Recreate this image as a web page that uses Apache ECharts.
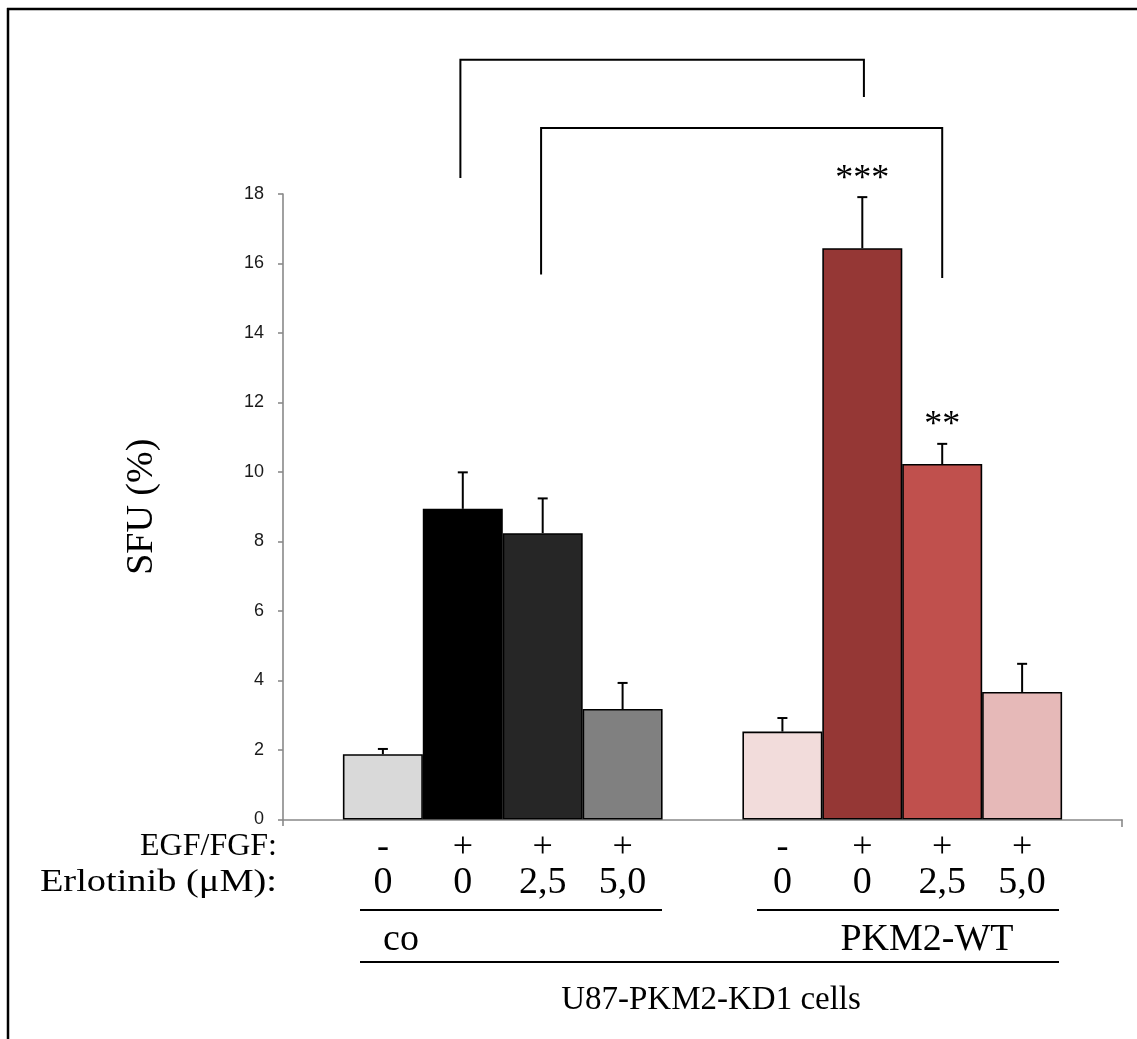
<!DOCTYPE html>
<html>
<head>
<meta charset="utf-8">
<script src="https://cdn.jsdelivr.net/npm/echarts@6/dist/echarts.min.js"></script>
<style>
html,body{margin:0;padding:0;background:#fff;}
#c{width:1137px;height:1039px;}
</style>
</head>
<body>
<div id="c"></div>
<script>
// ---- data ----
var positions = [0, 1, 2, 3, 5, 6, 7, 8];
var means = [1.88, 8.94, 8.24, 3.18, 2.53, 16.44, 10.23, 3.67];
var errors = [0.15, 1.05, 1.00, 0.75, 0.39, 1.47, 0.58, 0.81];
var barColors = ['#d9d9d9', '#000000', '#262626', '#808080', '#f2dcdb', '#953735', '#c0504d', '#e6b9b8'];
var egfLabels = ['-', '+', '+', '+', '-', '+', '+', '+'];
var erloLabels = ['0', '0', '2,5', '5,0', '0', '0', '2,5', '5,0'];
var sigLabels = ['', '', '', '', '', '***', '**', ''];
var yTicks = [0, 2, 4, 6, 8, 10, 12, 14, 16, 18];
// brackets: [leftX, rightX, topY, leftLegEndY, rightLegEndY]
var brackets = [
  [0.97, 6.02, 21.86, 18.46, 20.79],
  [1.98, 7.0, 19.9, 15.68, 15.58]
];

var SERIF = '"Liberation Serif", "Times New Roman", serif';
var chart = echarts.init(document.getElementById('c'));

var option = {
  animation: false,
  backgroundColor: '#ffffff',
  grid: {left: 283, right: 15, top: 194, bottom: 219.5, containLabel: false},
  xAxis: {
    type: 'value', min: -1.25, max: 9.25,
    axisLine: {show: true, onZero: false, lineStyle: {color: '#898989', width: 1.6}},
    axisTick: {show: false}, axisLabel: {show: false}, splitLine: {show: false}
  },
  yAxis: {
    type: 'value', min: yTicks[0], max: yTicks[yTicks.length - 1], interval: 2,
    name: 'SFU (%)', nameLocation: 'middle', nameGap: 122,
    nameTextStyle: {fontFamily: SERIF, fontSize: 38, color: '#000'},
    axisLine: {show: true, onZero: false, lineStyle: {color: '#898989', width: 1.6}},
    axisTick: {show: true, length: 5, lineStyle: {color: '#898989', width: 1.6}},
    axisLabel: {fontFamily: '"Liberation Sans", Arial, sans-serif', fontSize: 18, color: '#1a1a1a', margin: 19},
    splitLine: {show: false}
  },
  series: [
    {
      type: 'bar', barWidth: 80,
      data: positions.map(function (p, i) {
        return {value: [p, means[i]], itemStyle: {color: barColors[i], borderColor: '#000', borderWidth: 1.6}};
      })
    },
    {
      type: 'custom', z: 5,
      data: positions.map(function (p, i) { return [p, means[i], means[i] + errors[i]]; }),
      renderItem: function (params, api) {
        var i = params.dataIndex;
        var b = api.coord([api.value(0), api.value(1)]);
        var t = api.coord([api.value(0), api.value(2)]);
        var children = [
          {type: 'line', shape: {x1: b[0], y1: b[1], x2: t[0], y2: t[1]}, style: {stroke: '#000', lineWidth: 2}},
          {type: 'line', shape: {x1: t[0] - 5, y1: t[1], x2: t[0] + 5, y2: t[1]}, style: {stroke: '#000', lineWidth: 2}}
        ];
        if (sigLabels[i]) {
          children.push({type: 'text', x: t[0], y: t[1] - 18,
            style: {text: sigLabels[i], font: '36px ' + SERIF, fill: '#000', align: 'center', verticalAlign: 'middle'}});
        }
        return {type: 'group', children: children};
      }
    },
    {
      type: 'custom', z: 5,
      data: brackets,
      renderItem: function (params, api) {
        var l = api.coord([api.value(0), api.value(2)]);
        var r = api.coord([api.value(1), api.value(2)]);
        var le = api.coord([api.value(0), api.value(3)]);
        var re = api.coord([api.value(1), api.value(4)]);
        return {type: 'polyline', shape: {points: [[le[0], le[1]], [l[0], l[1]], [r[0], r[1]], [re[0], re[1]]]},
          style: {stroke: '#000', lineWidth: 2, fill: null}};
      }
    },
    {
      type: 'custom', z: 5,
      data: positions.map(function (p) { return [p, 0]; }),
      renderItem: function (params, api) {
        var i = params.dataIndex;
        var p = api.coord([api.value(0), 0]);
        return {type: 'group', children: [
          {type: 'text', x: p[0], y: p[1] + 28,
            style: {text: egfLabels[i], font: '36px ' + SERIF, fill: '#000', align: 'center', verticalAlign: 'middle'}},
          {type: 'text', x: p[0], y: p[1] + 64,
            style: {text: erloLabels[i], font: '38px ' + SERIF, fill: '#000', align: 'center', verticalAlign: 'middle'}}
        ]};
      }
    }
  ],
  graphic: [
    // frame
    {type: 'line', shape: {x1: 7, y1: 9, x2: 1137, y2: 9}, style: {stroke: '#000', lineWidth: 2.5}},
    {type: 'line', shape: {x1: 8, y1: 8, x2: 8, y2: 1039}, style: {stroke: '#000', lineWidth: 2.5}},
    // axis end ticks
    {type: 'line', shape: {x1: 283, y1: 819.5, x2: 283, y2: 826}, style: {stroke: '#898989', lineWidth: 1.6}},
    {type: 'line', shape: {x1: 1122, y1: 819.5, x2: 1122, y2: 827}, style: {stroke: '#898989', lineWidth: 1.6}},
    // row titles
    {type: 'text', x: 277, y: 847, style: {text: 'EGF/FGF:', font: '32px ' + SERIF, fill: '#000', align: 'right', verticalAlign: 'middle'}},
    {type: 'text', x: 277, y: 883, scaleX: 1.2, style: {text: 'Erlotinib (\u03bcM):', font: '32px ' + SERIF, fill: '#000', align: 'right', verticalAlign: 'middle'}},
    // group lines
    {type: 'line', shape: {x1: 360, y1: 910, x2: 662, y2: 910}, style: {stroke: '#000', lineWidth: 2}},
    {type: 'line', shape: {x1: 757, y1: 910, x2: 1059, y2: 910}, style: {stroke: '#000', lineWidth: 2}},
    {type: 'line', shape: {x1: 360, y1: 962, x2: 1059, y2: 962}, style: {stroke: '#000', lineWidth: 2}},
    {type: 'text', x: 401, y: 940, style: {text: 'co', font: '38px ' + SERIF, fill: '#000', align: 'center', verticalAlign: 'middle'}},
    {type: 'text', x: 927, y: 940, style: {text: 'PKM2-WT', font: '38px ' + SERIF, fill: '#000', align: 'center', verticalAlign: 'middle'}},
    {type: 'text', x: 711, y: 1000, style: {text: 'U87-PKM2-KD1 cells', font: '33px ' + SERIF, fill: '#000', align: 'center', verticalAlign: 'middle'}}
  ]
};
chart.setOption(option);
</script>
</body>
</html>
